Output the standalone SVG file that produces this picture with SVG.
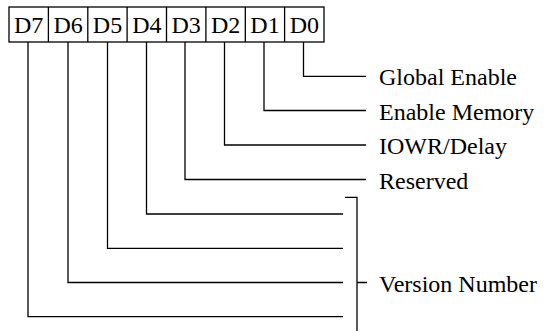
<svg xmlns="http://www.w3.org/2000/svg" width="544" height="331" viewBox="0 0 544 331">
<style>
.ln{stroke:#000;stroke-width:1.3;fill:none}
.t{font-family:"Liberation Serif","Times New Roman",serif;font-size:24px;fill:#000}
.b{font-family:"Liberation Serif","Times New Roman",serif;font-size:24px;fill:#000;text-anchor:middle}
</style>
<rect width="544" height="331" fill="#fff"/>
<g id="register">
<rect class="ln" x="9" y="7" width="315" height="35"/>
<path class="ln" d="M48.4 7V42M87.8 7V42M127.1 7V42M166.5 7V42M205.9 7V42M245.3 7V42M284.6 7V42"/>
<text class="b" x="28.7" y="32.5">D7</text>
<text class="b" x="68.1" y="32.5">D6</text>
<text class="b" x="107.5" y="32.5">D5</text>
<text class="b" x="146.8" y="32.5">D4</text>
<text class="b" x="186.2" y="32.5">D3</text>
<text class="b" x="225.6" y="32.5">D2</text>
<text class="b" x="265" y="32.5">D1</text>
<text class="b" x="304.3" y="32.5">D0</text>
</g>
<g id="connectors">
<path class="ln" d="M303.5 42V76.3H366"/>
<path class="ln" d="M264 42V110.5H366"/>
<path class="ln" d="M224.5 42V145H366"/>
<path class="ln" d="M185 42V179.5H366"/>
<path class="ln" d="M146.5 42V214H343"/>
<path class="ln" d="M107.5 42V248.3H343"/>
<path class="ln" d="M68 42V282.5H343"/>
<path class="ln" d="M28 42V316.7H343"/>
<path class="ln" d="M345 197.3H357V331M357 282.5H367"/>
</g>
<g id="label-d0"><text class="t" x="379" y="85">Global Enable</text></g>
<g id="label-d1"><text class="t" x="379" y="119.5">Enable Memory</text></g>
<g id="label-d2"><text class="t" x="379" y="154">IOWR/Delay</text></g>
<g id="label-d3"><text class="t" x="379" y="188.5">Reserved</text></g>
<g id="label-version"><text class="t" x="379" y="292">Version Number</text></g>
</svg>
